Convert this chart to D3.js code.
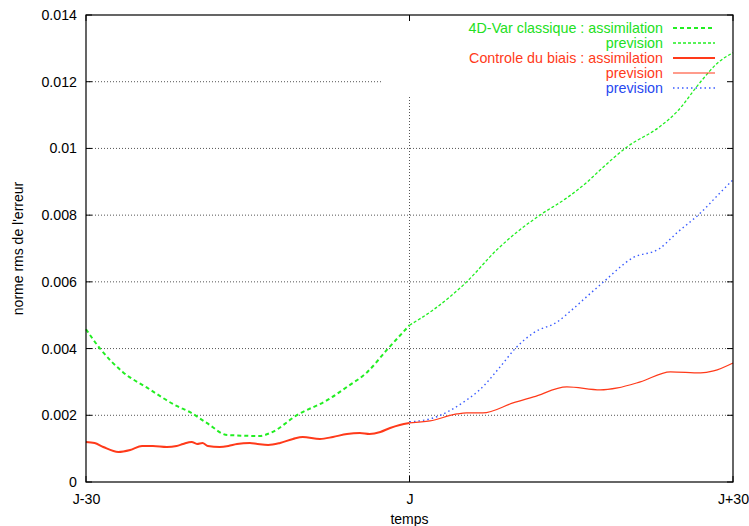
<!DOCTYPE html>
<html>
<head>
<meta charset="utf-8">
<script src="https://cdn.jsdelivr.net/npm/d3@7"></script>
<style>
    body { margin: 0; background: #fff; }
    svg { font-family: "Liberation Sans", Arial, sans-serif; }
    .tick text { font-size: 14.2px; fill: #000; }
</style>
</head>
<body>
<script>
(function() {

    // days relative to J, and rms error norm
    let assimDays = [-30, -28.7, -26.6, -24.3, -21.6, -20.4, -18.8, -16.9, -13.9, -12.9, -10.4, -7.6, -5.8, -3.9, -2.1, 0];
    let greenAssim = [0.00458, 0.0040, 0.0033, 0.00282, 0.00228, 0.0021, 0.00177, 0.00141, 0.00138, 0.00147, 0.00201, 0.00246, 0.00285, 0.0033, 0.00396, 0.0047];

    let greenPrevDays = [0, 2.2, 5.3, 8.1, 10.0, 12.1, 14.6, 16.5, 17.7, 20.2, 23.2, 24.8, 27.0, 28.6, 30];
    let greenPrev = [0.0047, 0.00516, 0.0060, 0.00696, 0.0075, 0.0080, 0.00852, 0.0090, 0.00936, 0.01005, 0.01065, 0.0111, 0.0120, 0.01257, 0.01287];

    let redAssimDays = [-30, -29.2, -28.4, -27.0, -25.9, -24.8, -23.8, -22.5, -21.6, -21.0, -20.2, -19.7, -19.2, -18.7, -17.6, -16.8, -16.0, -14.8, -14.1, -13.1, -12.0, -10.8, -9.9, -8.3, -7.1, -5.8, -4.6, -3.7, -2.7, -1.8, -0.9, 0];
    let redAssim = [0.0012, 0.00117, 0.00105, 0.0009, 0.00096, 0.00108, 0.00108, 0.00105, 0.00108, 0.00114, 0.0012, 0.00114, 0.00117, 0.00108, 0.00105, 0.00108, 0.00114, 0.00117, 0.00114, 0.00111, 0.00117, 0.00129, 0.00135, 0.00129, 0.00135, 0.00144, 0.00147, 0.00144, 0.0015, 0.00162, 0.00171, 0.00177];

    let redPrevDays = [0, 1.9, 4.4, 5.3, 6.8, 9.6, 11.5, 14.6, 17.7, 19.3, 21.4, 24.2, 27.0, 28.2, 30];
    let redPrev = [0.00177, 0.00183, 0.00204, 0.00207, 0.00207, 0.00237, 0.00255, 0.00285, 0.00276, 0.00282, 0.0030, 0.0033, 0.00327, 0.00333, 0.00357];

    let bluePrevDays = [0, 2.2, 5.3, 6.5, 8.4, 9.8, 11.5, 13.7, 15.2, 16.1, 18.0, 20.7, 23.2, 24.8, 27.0, 28.8, 30];
    let bluePrev = [0.0018, 0.00192, 0.00246, 0.00276, 0.00345, 0.0040, 0.00447, 0.0048, 0.0052, 0.00546, 0.0060, 0.00672, 0.0070, 0.00747, 0.00807, 0.00867, 0.00906];

    let yTicks = [0, 0.002, 0.004, 0.006, 0.008, 0.01, 0.012, 0.014];
    let yTickLabels = ["0", "0.002", "0.004", "0.006", "0.008", "0.01", "0.012", "0.014"];
    let xTicks = [-30, 0, 30];
    let xTickLabels = ["J-30", "J", "J+30"];

    let legendLabels = ["4D-Var classique : assimilation", "prevision", "Controle du biais : assimilation", "prevision", "prevision"];

    let green = "#22ee22", red = "#ff3a1a", blue = "#3a5cff";
    let greenText = "#22e022", redText = "#ff3a1a", blueText = "#2848f0";

    let width = 749, height = 526;
    let margin = {left: 86, right: 16, top: 15, bottom: 44};
    let keyLeft = 383, keyBottom = 97;

    let svg = d3.select("body").append("svg")
        .attr("width", width)
        .attr("height", height);

    let x = d3.scaleLinear().domain([-30, 30]).range([margin.left, width - margin.right]);
    let y = d3.scaleLinear().domain([0, 0.014]).range([height - margin.bottom, margin.top]);

    //grid lines (dotted), cut where the key sits
    let grid = svg.append("g").attr("stroke", "#555").attr("stroke-width", 1).attr("stroke-dasharray", "1,2");
    yTicks.slice(1, -1).forEach(function(t) {
        let x2 = y(t) < keyBottom ? keyLeft : x(30);
        grid.append("line").attr("x1", x(-30)).attr("x2", x2).attr("y1", y(t)).attr("y2", y(t));
    });
    grid.append("line").attr("x1", x(0)).attr("x2", x(0)).attr("y1", keyBottom).attr("y2", y(0));

    //axes
    let yAxis = d3.axisLeft(y).tickValues(yTicks).tickSize(0).tickPadding(9)
        .tickFormat(function(d, i) { return yTickLabels[i]; });
    svg.append("g").attr("transform", "translate(" + margin.left + ",0)").call(yAxis)
        .call(function(g) { g.select(".domain").remove(); });

    let xAxis = d3.axisBottom(x).tickValues(xTicks).tickSize(0).tickPadding(12)
        .tickFormat(function(d, i) { return xTickLabels[i]; });
    svg.append("g").attr("transform", "translate(0," + y(0) + ")").call(xAxis)
        .call(function(g) { g.select(".domain").remove(); });

    //inward ticks, mirrored
    let ticks = svg.append("g").attr("stroke", "#000").attr("stroke-width", 1);
    yTicks.forEach(function(t) {
        ticks.append("line").attr("x1", x(-30)).attr("x2", x(-30) + 6).attr("y1", y(t)).attr("y2", y(t));
        ticks.append("line").attr("x1", x(30)).attr("x2", x(30) - 6).attr("y1", y(t)).attr("y2", y(t));
    });
    xTicks.forEach(function(t) {
        ticks.append("line").attr("x1", x(t)).attr("x2", x(t)).attr("y1", y(0)).attr("y2", y(0) - 6);
        ticks.append("line").attr("x1", x(t)).attr("x2", x(t)).attr("y1", y(0.014)).attr("y2", y(0.014) + 6);
    });

    //curves
    function zip(xs, ys) { return xs.map(function(d, i) { return [d, ys[i]]; }); }
    let line = d3.line().x(function(d) { return x(d[0]); }).y(function(d) { return y(d[1]); })
        .curve(d3.curveMonotoneX);

    let series = [
        {data: zip(assimDays, greenAssim), color: green, w: 2, dash: "4,3"},
        {data: zip(greenPrevDays, greenPrev), color: green, w: 1.3, dash: "3,2"},
        {data: zip(redAssimDays, redAssim), color: red, w: 2, dash: null},
        {data: zip(redPrevDays, redPrev), color: red, w: 1.2, dash: null},
        {data: zip(bluePrevDays, bluePrev), color: blue, w: 1.4, dash: "1.5,3"}
    ];
    // draw order: blue under red prevision
    [0, 1, 4, 2, 3].forEach(function(i) {
        let s = series[i];
        svg.append("path")
            .datum(s.data)
            .attr("fill", "none")
            .attr("stroke", s.color)
            .attr("stroke-width", s.w)
            .attr("stroke-dasharray", s.dash)
            .attr("d", line);
    });

    //frame
    svg.append("rect")
        .attr("x", x(-30)).attr("y", y(0.014))
        .attr("width", x(30) - x(-30)).attr("height", y(0) - y(0.014))
        .attr("fill", "none").attr("stroke", "#000").attr("stroke-width", 1.2);

    //key
    let textColors = [greenText, greenText, redText, redText, blueText];
    let key = svg.append("g");
    legendLabels.forEach(function(lbl, i) {
        let ry = 28 + i * 15;
        key.append("text")
            .attr("x", 663).attr("y", ry)
            .attr("dy", "0.35em")
            .attr("text-anchor", "end")
            .attr("font-size", 14.3)
            .attr("fill", textColors[i])
            .text(lbl);
        key.append("line")
            .attr("x1", 673).attr("x2", 715).attr("y1", ry).attr("y2", ry)
            .attr("stroke", series[i].color)
            .attr("stroke-width", series[i].w)
            .attr("stroke-dasharray", series[i].dash);
    });

    //axis titles
    svg.append("text")
        .attr("x", x(0)).attr("y", 524)
        .attr("text-anchor", "middle")
        .attr("font-size", 14)
        .text("temps");

    svg.append("text")
        .attr("transform", "translate(23," + (margin.top + (y(0) - margin.top) / 2) + ") rotate(-90)")
        .attr("text-anchor", "middle")
        .attr("font-size", 14)
        .text("norme rms de l'erreur");

})();
</script>
</body>
</html>
